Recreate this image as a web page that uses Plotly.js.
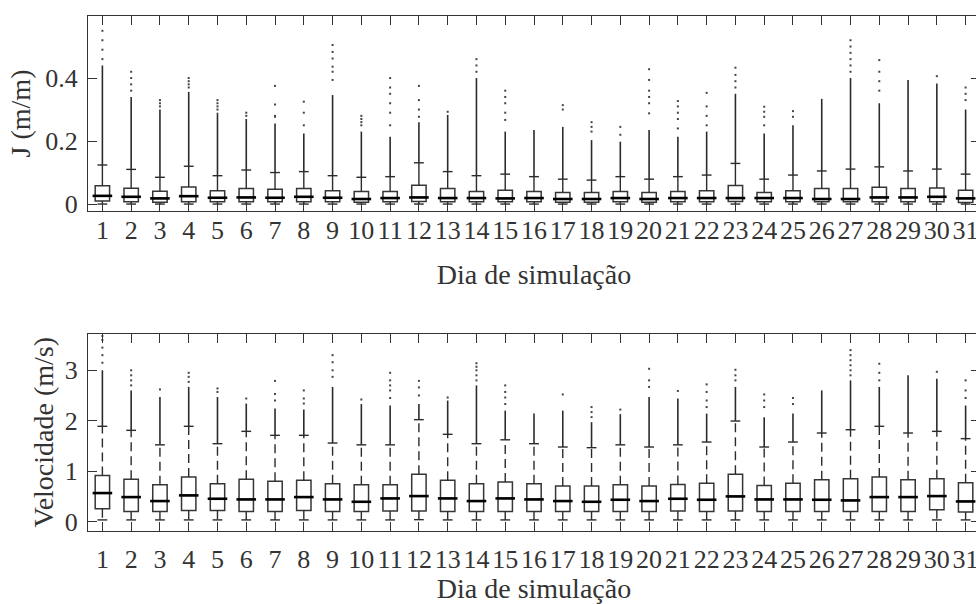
<!DOCTYPE html>
<html>
<head>
<meta charset="utf-8">
<script src="https://cdn.plot.ly/plotly-3.0.1.min.js"></script>
<style>
  html, body { margin: 0; padding: 0; overflow: hidden; background: #fff; }
  #chart { width: 992px; height: 604px; }
</style>
</head>
<body>
<div id="chart"></div>
<script>
// Simulation days
const days = Array.from({length: 31}, (_, i) => i + 1);
const dayLabels = days.map(String);

// Head loss J (m/m): box statistics per day
const jQ1  = [0.010,0.007,0.006,0.007,0.007,0.007,0.007,0.007,0.007,0.006,0.007,0.008,0.007,0.007,0.007,0.007,0.006,0.006,0.007,0.006,0.007,0.007,0.008,0.007,0.007,0.007,0.007,0.007,0.007,0.007,0.005];
const jMed = [0.026,0.023,0.018,0.025,0.020,0.021,0.020,0.023,0.020,0.016,0.019,0.021,0.019,0.019,0.018,0.019,0.016,0.016,0.019,0.016,0.019,0.019,0.019,0.019,0.019,0.016,0.016,0.021,0.021,0.023,0.018];
const jQ3  = [0.058,0.050,0.041,0.054,0.042,0.049,0.047,0.049,0.042,0.040,0.040,0.060,0.049,0.040,0.044,0.040,0.037,0.037,0.040,0.037,0.040,0.042,0.059,0.037,0.042,0.049,0.049,0.053,0.049,0.051,0.044];
const jLow = [0,0,0,0,0,0,0,0,0,0,0,0,0,0,0,0,0,0,0,0,0,0,0,0,0,0,0,0,0,0,0];
const jUp  = [0.124,0.110,0.085,0.120,0.090,0.108,0.100,0.103,0.090,0.085,0.087,0.131,0.103,0.090,0.095,0.087,0.079,0.076,0.087,0.079,0.087,0.092,0.129,0.079,0.092,0.105,0.111,0.118,0.105,0.111,0.095];
// upper end of the dense run of outliers above the whisker
const jDenseTop = [0.44,0.34,0.30,0.356,0.29,0.27,0.256,0.224,0.346,0.23,0.214,0.26,0.283,0.40,0.23,0.235,0.245,0.203,0.198,0.235,0.214,0.23,0.35,0.224,0.25,0.334,0.40,0.32,0.394,0.383,0.30];
// isolated outliers above the dense run
const jOutliers = [
  [0.46,0.49,0.52,0.55],[0.36,0.38,0.40,0.42],[0.31,0.32,0.33],[0.37,0.38,0.39,0.40],
  [0.30,0.31,0.32,0.33],[0.28,0.29],[0.277,0.28,0.316,0.375],[0.25,0.29,0.325],
  [0.394,0.42,0.436,0.462,0.483,0.505],[0.25,0.26,0.27,0.28],[0.25,0.29,0.32,0.35,0.37,0.40],
  [0.277,0.30,0.33,0.375],[0.293],[0.42,0.44,0.46],[0.267,0.29,0.32,0.34,0.36],[],
  [0.30,0.314],[0.23,0.245,0.26],[0.22,0.245],[0.288,0.32,0.34,0.36,0.394,0.428],
  [0.24,0.27,0.29,0.31,0.327],[0.25,0.28,0.31,0.353],[0.37,0.39,0.41,0.433],
  [0.25,0.277,0.293,0.309],[0.277,0.295],[],[0.42,0.44,0.46,0.48,0.50,0.52],
  [0.36,0.39,0.42,0.457],[],[0.406],[0.33,0.35,0.37]
];

// Velocity (m/s): box statistics per day
const vQ1  = [0.252,0.199,0.199,0.219,0.219,0.199,0.199,0.219,0.199,0.199,0.205,0.205,0.199,0.199,0.199,0.199,0.199,0.199,0.199,0.199,0.205,0.199,0.205,0.199,0.199,0.199,0.199,0.199,0.199,0.232,0.185];
const vMed = [0.563,0.483,0.404,0.517,0.450,0.437,0.437,0.483,0.437,0.390,0.457,0.503,0.457,0.404,0.457,0.437,0.404,0.390,0.430,0.404,0.450,0.430,0.497,0.437,0.437,0.430,0.417,0.483,0.483,0.503,0.397];
const vQ3  = [0.914,0.835,0.729,0.880,0.749,0.835,0.795,0.815,0.749,0.729,0.729,0.934,0.815,0.749,0.781,0.749,0.702,0.702,0.729,0.702,0.735,0.760,0.934,0.715,0.760,0.828,0.848,0.880,0.828,0.848,0.768];
const vLow = [0.03,0.03,0.03,0.03,0.03,0.03,0.03,0.03,0.03,0.03,0.03,0.035,0.03,0.03,0.03,0.03,0.03,0.03,0.03,0.03,0.03,0.03,0.03,0.03,0.03,0.03,0.03,0.03,0.03,0.03,0.03];
const vUp  = [1.888,1.808,1.520,1.888,1.543,1.788,1.709,1.709,1.556,1.520,1.520,2.020,1.729,1.543,1.620,1.543,1.477,1.464,1.520,1.477,1.520,1.576,1.993,1.477,1.576,1.755,1.820,1.888,1.755,1.788,1.643];
const vDenseTop = [3.00,2.60,2.47,2.67,2.47,2.34,2.24,2.22,2.67,2.33,2.30,2.33,2.40,2.70,2.20,2.14,2.20,1.97,2.13,2.47,2.44,2.14,2.67,2.07,2.14,2.60,2.80,2.67,2.90,2.83,2.30];
const vOutliers = [
  [3.15,3.3,3.45,3.6,3.68],[2.7,2.8,2.9,3.0],[2.62],[2.77,2.87,2.95],[2.57,2.64],[2.44],
  [2.40,2.53,2.79],[2.34,2.44,2.60],[2.87,3.0,3.16,3.30],[2.42],[2.45,2.6,2.7,2.8,2.95],
  [2.5,2.66,2.79],[2.46],[2.8,2.9,3.0,3.07,3.14],[2.33,2.46,2.57,2.70],[],[2.52],
  [2.07,2.17,2.27],[2.22],[2.67,2.80,3.03],[2.59],[2.27,2.4,2.57,2.72],[2.8,2.9,3.01],
  [2.27,2.4,2.52],[2.33,2.45],[],[2.9,3.0,3.1,3.2,3.3,3.4],[2.8,2.95,3.13],[],[2.97],
  [2.45,2.6,2.8]
];

const INK = '#2b2b2b';
const BOX = '#363636';
const FONT = 'Liberation Serif';

// Build the traces of one boxplot panel
function panel(xa, ya, q1, med, q3, low, up, denseTop, outliers, whiskerDash) {
  const traces = [];
  // boxes (whiskers drawn separately so they can be dashed)
  traces.push({
    type: 'box', xaxis: xa, yaxis: ya, x: days,
    q1: q1, median: med, q3: q3, lowerfence: q1, upperfence: q3,
    width: 0.5, boxpoints: false, fillcolor: 'rgba(0,0,0,0)',
    line: {color: BOX, width: 1.5}, hoverinfo: 'skip', showlegend: false
  });
  // whiskers
  const wx = [], wy = [];
  days.forEach((d, i) => {
    wx.push(d, d, null, d, d, null);
    wy.push(q3[i], up[i], null, q1[i], low[i], null);
  });
  traces.push({
    type: 'scatter', mode: 'lines', xaxis: xa, yaxis: ya, x: wx, y: wy,
    line: {color: INK, width: 1.4, dash: whiskerDash}, hoverinfo: 'skip', showlegend: false
  });
  // whisker caps
  traces.push({
    type: 'scatter', mode: 'markers', xaxis: xa, yaxis: ya,
    x: days.concat(days), y: up.concat(low),
    marker: {symbol: 'line-ew', size: 7, line: {color: INK, width: 1.4}},
    hoverinfo: 'skip', showlegend: false
  });
  // thick median lines
  traces.push({
    type: 'scatter', mode: 'markers', xaxis: xa, yaxis: ya, x: days, y: med,
    marker: {symbol: 'line-ew', size: 14, line: {color: '#000', width: 2.6}},
    hoverinfo: 'skip', showlegend: false
  });
  // dense outlier runs
  const ox = [], oy = [];
  days.forEach((d, i) => { ox.push(d, d, null); oy.push(up[i], denseTop[i], null); });
  traces.push({
    type: 'scatter', mode: 'lines', xaxis: xa, yaxis: ya, x: ox, y: oy,
    line: {color: INK, width: 1.6}, hoverinfo: 'skip', showlegend: false
  });
  // isolated outliers
  const sx = [], sy = [];
  days.forEach((d, i) => outliers[i].forEach(v => { sx.push(d); sy.push(v); }));
  traces.push({
    type: 'scatter', mode: 'markers', xaxis: xa, yaxis: ya, x: sx, y: sy,
    marker: {symbol: 'square', size: 2, color: '#444', line: {width: 0}},
    hoverinfo: 'skip', showlegend: false
  });
  return traces;
}

const data = [].concat(
  panel('x', 'y', jQ1, jMed, jQ3, jLow, jUp, jDenseTop, jOutliers, 'solid'),
  panel('x2', 'y2', vQ1, vMed, vQ3, vLow, vUp, vDenseTop, vOutliers, '9px,5px')
);

function tickFont() { return {family: FONT, size: 26, color: '#333'}; }
function titleFont() { return {family: FONT, size: 28, color: '#333'}; }

function xAxis(labelGap, titleGap) {
  return {
    range: [0.5, 31.5], tickvals: days, ticktext: dayLabels,
    ticks: 'inside', ticklen: 9, tickwidth: 1, tickcolor: '#333',
    showline: true, linecolor: '#333', linewidth: 1, mirror: 'ticks',
    showgrid: false, zeroline: false, tickfont: tickFont(), ticklabelstandoff: labelGap,
    title: {text: 'Dia de simulação', font: titleFont(), standoff: titleGap}
  };
}
function yAxis(range, vals, text, title, titleGap) {
  const ax = {
    range: range, tickvals: vals, ticktext: text,
    ticks: 'inside', ticklen: 9, tickwidth: 1, tickcolor: '#333',
    showline: true, linecolor: '#333', linewidth: 1, mirror: 'ticks',
    showgrid: false, zeroline: false, tickfont: tickFont(), ticklabelstandoff: 4
  };
  if (title) ax.title = {text: title, font: titleFont(), standoff: titleGap};
  return ax;
}

const layout = {
  width: 992, height: 604,
  margin: {l: 88, r: 12, t: 16, b: 73},
  font: {family: FONT, size: 26, color: '#333'},
  paper_bgcolor: '#fff', plot_bgcolor: '#fff',
  showlegend: false,
  xaxis: Object.assign(xAxis(-4, 20), {anchor: 'y', domain: [0, 1]}),
  yaxis: Object.assign(yAxis([-0.022, 0.597], [0, 0.2, 0.4], ['0', '0.2', '0.4'], 'J (m/m)', 6),
                       {anchor: 'x', domain: [0.6214, 1]}),
  xaxis2: Object.assign(xAxis(5, 9), {anchor: 'y2', domain: [0, 1]}),
  yaxis2: Object.assign(yAxis([-0.19, 3.72], [0, 1, 2, 3], ['0', '1', '2', '3'], null, 0),
                        {anchor: 'x2', domain: [0, 0.3825]}),
  // velocity axis title sits close to its single-digit tick labels
  annotations: [{
    text: 'Velocidade (m/s)', textangle: -90, showarrow: false,
    xref: 'paper', yref: 'paper', x: 0, y: 0.1913, xshift: -45,
    xanchor: 'center', yanchor: 'middle',
    font: titleFont()
  }]
};

Plotly.newPlot('chart', data, layout, {staticPlot: true, displayModeBar: false});
</script>
</body>
</html>
